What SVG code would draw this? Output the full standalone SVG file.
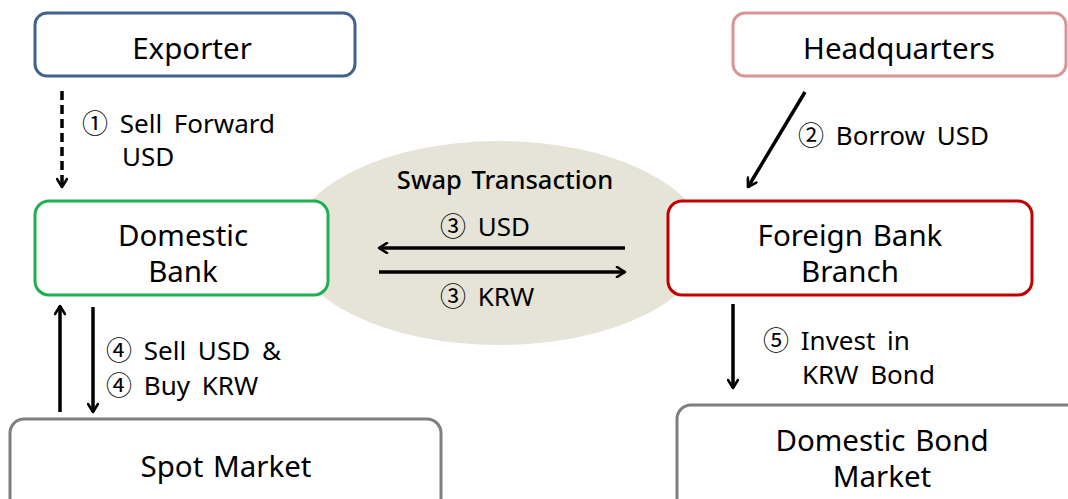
<svg xmlns="http://www.w3.org/2000/svg" width="1068" height="499" viewBox="0 0 1068 499">
<defs>
<marker id="ah" viewBox="0 0 12 12" refX="10" refY="6" markerWidth="12" markerHeight="12" markerUnits="userSpaceOnUse" orient="auto">
<path d="M2,1 L10,6 L2,11" fill="none" stroke="#000" stroke-width="2.6" stroke-linecap="round" stroke-linejoin="round"/>
</marker>
</defs>
<style>
text{font-family:"Noto Sans","Noto Sans CJK KR",sans-serif;fill:#000}
.n{font-size:29.5px;text-anchor:middle;word-spacing:2px}
.l{font-size:26px;word-spacing:5px}
.box{fill:#fff;stroke-width:3}
.c{fill:none;stroke:#000;stroke-width:3.5;marker-end:url(#ah)}
</style>
<rect width="1068" height="499" fill="#fff"/>
<ellipse cx="499" cy="243" rx="206" ry="102" fill="#e6e4d7"/>
<text x="505" y="189" style="font-size:25.5px;text-anchor:middle;font-weight:500;word-spacing:3px">Swap Transaction</text>
<g id="exporter"><rect class="box" x="35" y="13" width="320" height="63" rx="12" stroke="#41618f"/><text class="n" x="192" y="59">Exporter</text></g>
<g id="headquarters"><rect class="box" x="733" y="13" width="333" height="63" rx="12" stroke="#d99594"/><text class="n" x="899" y="59">Headquarters</text></g>
<g id="domestic-bank"><rect class="box" x="35" y="201" width="293" height="94" rx="14" stroke="#1db050"/><text class="n" x="183" y="246">Domestic</text><text class="n" x="183" y="282">Bank</text></g>
<g id="foreign-bank"><rect class="box" x="668" y="201" width="364" height="94" rx="14" stroke="#c00000"/><text class="n" x="850" y="246">Foreign Bank</text><text class="n" x="850" y="282">Branch</text></g>
<g id="spot-market"><rect class="box" x="10" y="419" width="431" height="100" rx="14" stroke="#7f7f7f"/><text class="n" x="226" y="477">Spot Market</text></g>
<g id="bond-market"><rect class="box" x="677" y="405" width="410" height="110" rx="14" stroke="#7f7f7f"/><text class="n" x="882" y="451">Domestic Bond</text><text class="n" x="882" y="487">Market</text></g>
<g id="connectors">
<line class="c" x1="62" y1="91" x2="62" y2="187" stroke-dasharray="9,5"/>
<line class="c" x1="805" y1="92" x2="748" y2="187"/>
<line class="c" x1="625" y1="248" x2="379" y2="248"/>
<line class="c" x1="379" y1="272" x2="625" y2="272"/>
<line class="c" x1="60" y1="412" x2="60" y2="306"/>
<line class="c" x1="93" y1="307" x2="93" y2="412"/>
<line class="c" x1="733" y1="304" x2="733" y2="388"/>
</g>
<g id="labels">
<text class="l" x="82" y="133">① Sell Forward</text>
<text class="l" x="122" y="166">USD</text>
<text class="l" x="798" y="145">② Borrow USD</text>
<text class="l" x="440" y="236">③ USD</text>
<text class="l" x="440" y="306">③ KRW</text>
<text class="l" x="106" y="360">④ Sell USD &amp;</text>
<text class="l" x="106" y="395">④ Buy KRW</text>
<text class="l" x="763" y="350">⑤ Invest in</text>
<text class="l" x="802" y="384">KRW Bond</text>
</g>
</svg>
